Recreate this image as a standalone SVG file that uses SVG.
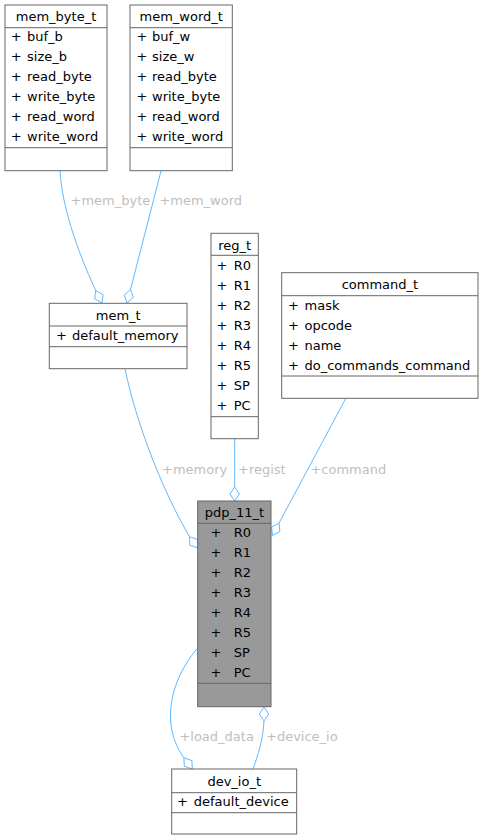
<svg xmlns="http://www.w3.org/2000/svg" width="483" height="840" viewBox="0 0 483 840">
<style>
.box{fill:#ffffff;stroke:#666666;stroke-width:1}
.boxg{fill:#999999;stroke:#666666;stroke-width:1}
.sep{stroke:#666666;stroke-width:1;fill:none}
text{font-family:"DejaVu Sans",sans-serif;font-size:13px;fill:#000000}
.t{text-anchor:middle}
.lbl{fill:#bebebe}
.edge{fill:none;stroke:#63b8ff;stroke-width:1}
.dia{fill:none;stroke:#63b8ff;stroke-width:1}
</style>
<rect width="483" height="840" fill="#ffffff"/>
<g id="connectors">
  <path class="edge" d="M60,171 C62,205 76,248 95.7,290.5"/>
  <polygon class="dia" points="102,303 94.65,298.85 95.7,290.5 103.05,294.65"/>
  <path class="edge" d="M161,171 L130.5,289.5"/>
  <polygon class="dia" points="127,303 124.2,295.05 130.5,289.45 133.3,297.4"/>
  <path class="edge" d="M125,369 C138,430 165,495 189.5,536.7"/>
  <polygon class="dia" points="197.7,548 189.8,545.1 189.5,536.7 197.4,539.5"/>
  <path class="edge" d="M234.7,439 L234.7,487"/>
  <polygon class="dia" points="234.7,501 230,494 234.7,487 239.4,494"/>
  <path class="edge" d="M346,398 L279,523.1"/>
  <polygon class="dia" points="272.5,535.5 271.6,527.1 279,523.1 279.9,531.5"/>
  <path class="edge" d="M197.7,648 C170,680 160,725 183.9,757.8"/>
  <polygon class="dia" points="192.3,769 184.3,766.2 183.9,757.8 191.9,760.6"/>
  <path class="edge" d="M253,769 C258,755 263,740 264,721"/>
  <polygon class="dia" points="264,707 259.3,714 264,721 268.7,714"/>
  <text class="lbl" x="70.5" y="205.4">+mem_byte</text>
  <text class="lbl" x="159.4" y="205.4">+mem_word</text>
  <text class="lbl" x="162" y="473.5">+memory</text>
  <text class="lbl" x="238" y="473.5">+regist</text>
  <text class="lbl" x="310.4" y="473.5">+command</text>
  <text class="lbl" x="179.4" y="741.4">+load_data</text>
  <text class="lbl" x="266" y="741.4">+device_io</text>
</g>
<g id="mem_byte_t">
  <rect class="box" x="5" y="5" width="102" height="165.7"/>
  <line class="sep" x1="5" y1="27.7" x2="107" y2="27.7"/>
  <line class="sep" x1="5" y1="147.7" x2="107" y2="147.7"/>
  <text class="t" x="56" y="21.4">mem_byte_t</text>
  <text x="10.7" y="41.4">+</text><text x="27" y="41.4">buf_b</text>
  <text x="10.7" y="61.4">+</text><text x="27" y="61.4">size_b</text>
  <text x="10.7" y="81.4">+</text><text x="27" y="81.4">read_byte</text>
  <text x="10.7" y="101.4">+</text><text x="27" y="101.4">write_byte</text>
  <text x="10.7" y="121.4">+</text><text x="27" y="121.4">read_word</text>
  <text x="10.7" y="141.4">+</text><text x="27" y="141.4">write_word</text>
</g>
<g id="mem_word_t">
  <rect class="box" x="130" y="5" width="102.3" height="165.7"/>
  <line class="sep" x1="130" y1="27.7" x2="232.3" y2="27.7"/>
  <line class="sep" x1="130" y1="147.7" x2="232.3" y2="147.7"/>
  <text class="t" x="181.2" y="21.4">mem_word_t</text>
  <text x="136.4" y="41.4">+</text><text x="152" y="41.4">buf_w</text>
  <text x="136.4" y="61.4">+</text><text x="152" y="61.4">size_w</text>
  <text x="136.4" y="81.4">+</text><text x="152" y="81.4">read_byte</text>
  <text x="136.4" y="101.4">+</text><text x="152" y="101.4">write_byte</text>
  <text x="136.4" y="121.4">+</text><text x="152" y="121.4">read_word</text>
  <text x="136.4" y="141.4">+</text><text x="152" y="141.4">write_word</text>
</g>
<g id="mem_t">
  <rect class="box" x="49.3" y="303.3" width="137.7" height="65.4"/>
  <line class="sep" x1="49.3" y1="326" x2="187" y2="326"/>
  <line class="sep" x1="49.3" y1="346.7" x2="187" y2="346.7"/>
  <text class="t" x="118.2" y="320">mem_t</text>
  <text x="56" y="339.7">+</text><text x="72" y="339.7">default_memory</text>
</g>
<g id="reg_t">
  <rect class="box" x="211" y="233.3" width="47.3" height="205.4"/>
  <line class="sep" x1="211" y1="255.3" x2="258.3" y2="255.3"/>
  <line class="sep" x1="211" y1="416.7" x2="258.3" y2="416.7"/>
  <text class="t" x="234.7" y="249.7">reg_t</text>
  <text x="216.4" y="269.7">+</text><text x="233.7" y="269.7">R0</text>
  <text x="216.4" y="289.7">+</text><text x="233.7" y="289.7">R1</text>
  <text x="216.4" y="309.7">+</text><text x="233.7" y="309.7">R2</text>
  <text x="216.4" y="329.7">+</text><text x="233.7" y="329.7">R3</text>
  <text x="216.4" y="349.7">+</text><text x="233.7" y="349.7">R4</text>
  <text x="216.4" y="369.7">+</text><text x="233.7" y="369.7">R5</text>
  <text x="216.4" y="389.7">+</text><text x="233.7" y="389.7">SP</text>
  <text x="216.4" y="409.7">+</text><text x="233.7" y="409.7">PC</text>
</g>
<g id="command_t">
  <rect class="box" x="281.7" y="272.7" width="196.3" height="125.6"/>
  <line class="sep" x1="281.7" y1="295.7" x2="478" y2="295.7"/>
  <line class="sep" x1="281.7" y1="376" x2="478" y2="376"/>
  <text class="t" x="379.9" y="289">command_t</text>
  <text x="288" y="309.7">+</text><text x="304.5" y="309.7">mask</text>
  <text x="288" y="329.7">+</text><text x="304.5" y="329.7">opcode</text>
  <text x="288" y="349.7">+</text><text x="304.5" y="349.7">name</text>
  <text x="288" y="369.7">+</text><text x="304.5" y="369.7">do_commands_command</text>
</g>
<g id="pdp_11_t">
  <rect class="boxg" x="197.7" y="501" width="73.3" height="205.7"/>
  <line class="sep" x1="197.7" y1="523.3" x2="271" y2="523.3"/>
  <line class="sep" x1="197.7" y1="683.3" x2="271" y2="683.3"/>
  <text class="t" x="234.4" y="517.4">pdp_11_t</text>
  <text x="210.4" y="537.4">+</text><text x="233.7" y="537.4">R0</text>
  <text x="210.4" y="557.4">+</text><text x="233.7" y="557.4">R1</text>
  <text x="210.4" y="577.4">+</text><text x="233.7" y="577.4">R2</text>
  <text x="210.4" y="597.4">+</text><text x="233.7" y="597.4">R3</text>
  <text x="210.4" y="617.4">+</text><text x="233.7" y="617.4">R4</text>
  <text x="210.4" y="637.4">+</text><text x="233.7" y="637.4">R5</text>
  <text x="210.4" y="657.4">+</text><text x="233.7" y="657.4">SP</text>
  <text x="210.4" y="677.4">+</text><text x="233.7" y="677.4">PC</text>
</g>
<g id="dev_io_t">
  <rect class="box" x="171.7" y="769" width="125" height="65"/>
  <line class="sep" x1="171.7" y1="792.7" x2="296.7" y2="792.7"/>
  <line class="sep" x1="171.7" y1="812.7" x2="296.7" y2="812.7"/>
  <text class="t" x="234.2" y="786.4">dev_io_t</text>
  <text x="177" y="806.4">+</text><text x="193.8" y="806.4">default_device</text>
</g>
</svg>
